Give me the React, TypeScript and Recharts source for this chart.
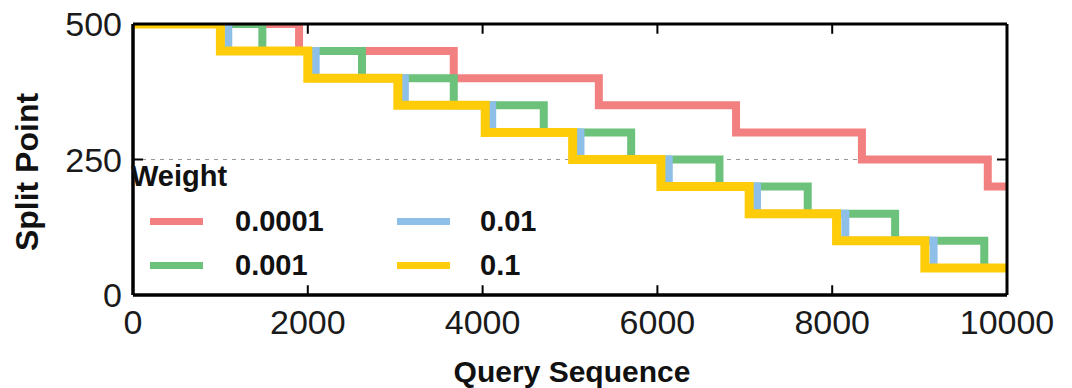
import { LineChart, Line, XAxis, YAxis, CartesianGrid, ReferenceLine, Label } from 'recharts'

// step breakpoints (query index where split point drops)
const xTicks = [0, 2000, 4000, 6000, 8000, 10000]
const yTicks = [0, 250, 500]
const innerXTicks = [2000, 4000, 6000, 8000]

const levels = [500, 450, 400, 350, 300, 250, 200, 150, 100, 50, 50]

const steps0001 = [0, 1900, 3670, 5330, 6900, 8340, 9780, 10000]
const steps001 = [0, 1480, 2620, 3670, 4700, 5700, 6710, 7720, 8720, 9740, 10000]
const steps01 = [0, 1090, 2090, 3110, 4110, 5120, 6130, 7140, 8150, 9160, 10000]
const steps1 = [0, 1000, 2000, 3030, 4030, 5030, 6040, 7050, 8050, 9060, 10000]

const toPoints = (xs: number[]) =>
  xs.map((q, i) => ({ q, split: i === xs.length - 1 ? levels[i - 1] : levels[i] }))

const series = [
  { name: '0.0001', color: '#f38080', width: 8, data: toPoints(steps0001) },
  { name: '0.001', color: '#6cc17b', width: 8, data: toPoints(steps001) },
  { name: '0.01', color: '#8ebfe8', width: 8, data: toPoints(steps01) },
  { name: '0.1', color: '#ffcc0a', width: 9, data: toPoints(steps1) }
]

const font = '"Liberation Sans", Arial, Helvetica, sans-serif'

// legend sits on top of the plot, so it is drawn outside recharts' layout
const WeightLegend = () => (
  <div
    style={{
      position: 'absolute',
      left: 131,
      top: 162,
      width: 440,
      height: 130,
      fontFamily: font,
      fontWeight: 700,
      fontSize: 29,
      lineHeight: '29px',
      color: '#111'
    }}
  >
    <div style={{ position: 'absolute', left: 0, top: 0 }}>Weight</div>
    {series.map((s, i) => {
      const col = i < 2 ? 0 : 1
      const row = i % 2
      const cy = row === 0 ? 59 : 103
      return (
        <div key={s.name}>
          <div
            style={{
              position: 'absolute',
              left: col === 0 ? 19 : 266,
              top: cy - 3.5,
              width: 53,
              height: 7,
              background: s.color
            }}
          />
          <div style={{ position: 'absolute', left: col === 0 ? 104 : 349, top: cy - 14 }}>{s.name}</div>
        </div>
      )
    })}
  </div>
)

const YLabel = () => (
  <text
    x={27}
    y={172}
    transform='rotate(-90 27 172)'
    textAnchor='middle'
    dominantBaseline='central'
    style={{ fontFamily: font, fontSize: 32, fontWeight: 700, fill: '#111' }}
  >
    Split Point
  </text>
)

const XLabel = () => (
  <text
    x={572}
    y={382}
    textAnchor='middle'
    style={{ fontFamily: font, fontSize: 30, fontWeight: 700, fill: '#111' }}
  >
    Query Sequence
  </text>
)

const frame = { stroke: '#000', strokeWidth: 3 }

export default function App() {
  return (
    <div style={{ position: 'absolute', left: 0, top: 0, width: 1072, height: 388, background: '#fff' }}>
      <LineChart width={1072} height={388} margin={{ top: 24, right: 65, left: 0, bottom: 0 }}>
        <CartesianGrid vertical={false} horizontalValues={[250]} stroke='#999' strokeDasharray='4 5' strokeWidth={1} />
        <XAxis
          dataKey='q'
          type='number'
          domain={[0, 10000]}
          allowDataOverflow
          ticks={xTicks}
          height={93}
          tickSize={0}
          tickMargin={15}
          axisLine={frame}
          tick={{ fontFamily: font, fontSize: 34, fill: '#1a1a1a' }}
        >
          <Label content={<XLabel />} />
        </XAxis>
        <YAxis
          type='number'
          domain={[0, 500]}
          allowDataOverflow
          ticks={yTicks}
          width={133}
          tickSize={0}
          tickMargin={11}
          axisLine={frame}
          tick={{ fontFamily: font, fontSize: 34, fill: '#1a1a1a' }}
        >
          <Label content={<YLabel />} />
        </YAxis>
        {series.map((s) => (
          <Line
            key={s.name}
            data={s.data}
            dataKey='split'
            name={s.name}
            type='stepAfter'
            stroke={s.color}
            strokeWidth={s.width}
            dot={false}
            activeDot={false}
            isAnimationActive={false}
          />
        ))}
        {/* top and right edges of the box */}
        <ReferenceLine segment={[{ x: 0, y: 500 }, { x: 10000, y: 500 }]} {...frame} ifOverflow='visible' />
        <ReferenceLine segment={[{ x: 10000, y: 0 }, { x: 10000, y: 500 }]} {...frame} ifOverflow='visible' />
        <ReferenceLine segment={[{ x: 0, y: 0 }, { x: 10000, y: 0 }]} {...frame} ifOverflow='visible' />
        <ReferenceLine segment={[{ x: 0, y: 0 }, { x: 0, y: 500 }]} {...frame} ifOverflow='visible' />
        {innerXTicks.map((t) => (
          <ReferenceLine
            key={'b' + t}
            segment={[{ x: t, y: 0 }, { x: t, y: 18 }]}
            stroke='#000'
            strokeWidth={2}
            ifOverflow='visible'
          />
        ))}
        {innerXTicks.map((t) => (
          <ReferenceLine
            key={'t' + t}
            segment={[{ x: t, y: 500 }, { x: t, y: 482 }]}
            stroke='#000'
            strokeWidth={2}
            ifOverflow='visible'
          />
        ))}
        <ReferenceLine segment={[{ x: 0, y: 250 }, { x: 115, y: 250 }]} stroke='#000' strokeWidth={2} ifOverflow='visible' />
        <ReferenceLine segment={[{ x: 9885, y: 250 }, { x: 10000, y: 250 }]} stroke='#000' strokeWidth={2} ifOverflow='visible' />
      </LineChart>
      <WeightLegend />
    </div>
  )
}
